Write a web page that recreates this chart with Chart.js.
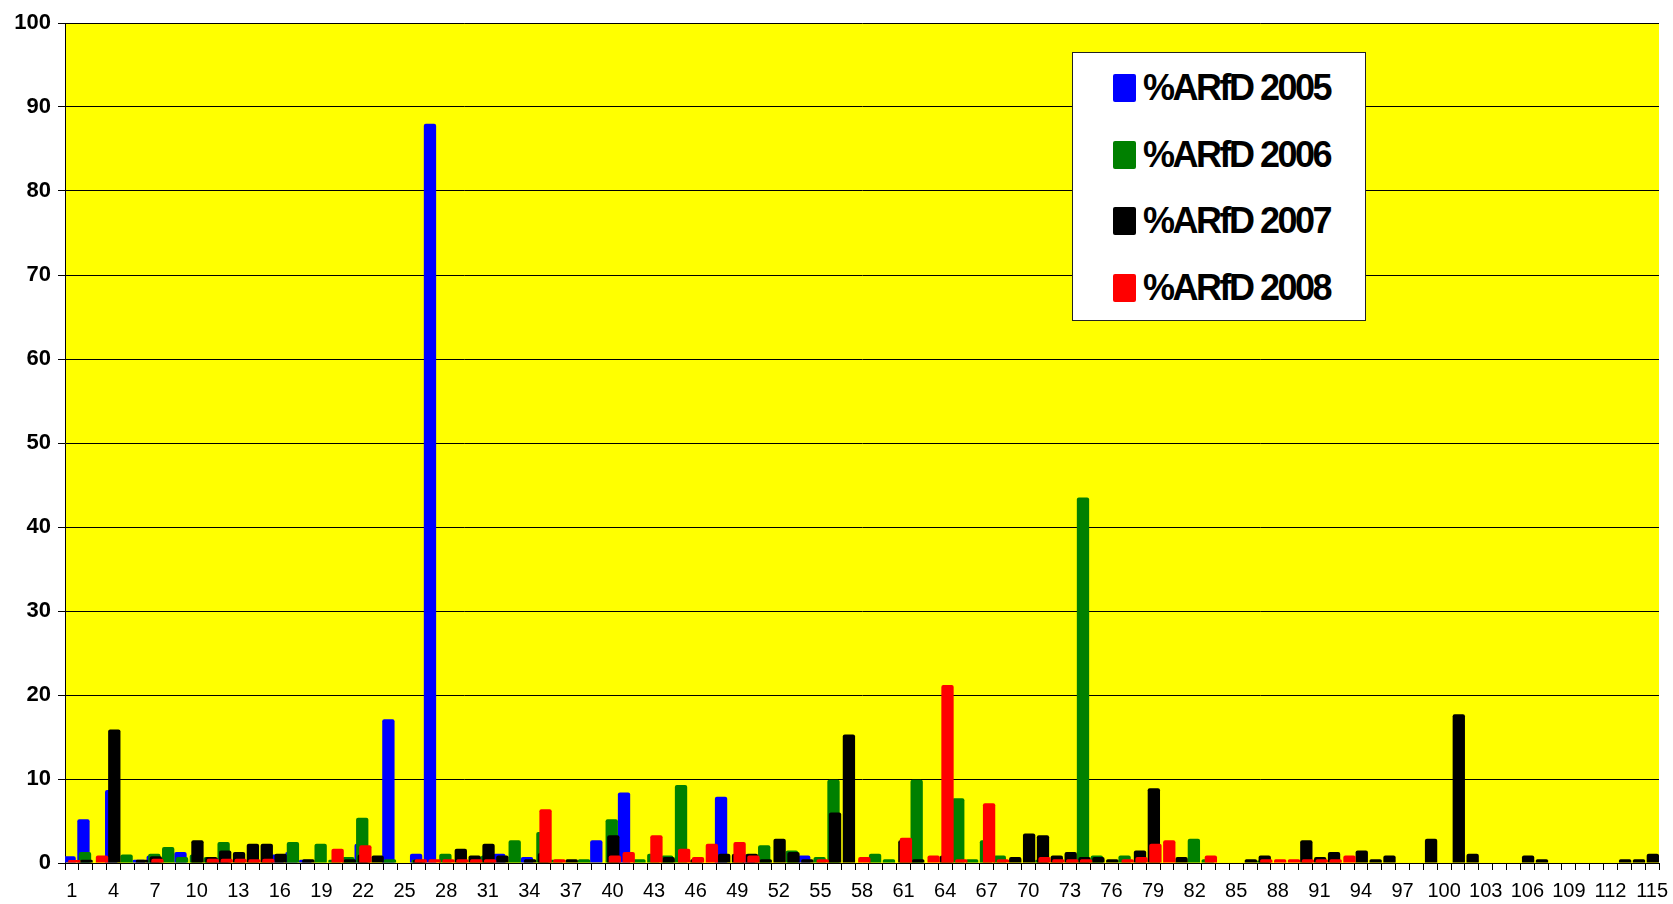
<!DOCTYPE html>
<html lang="en">
<head>
  <meta charset="UTF-8">
  <title>%ARfD 2005 - 2008</title>
  <script src="https://cdn.jsdelivr.net/npm/chart.js"></script>
  <style>
    body {
      margin: 0;
      background: white;
    }
    .wrap {
      position: relative;
      width: 1673px;
      height: 904px;
    }
    #legend {
      position: absolute;
      left: 1072px;
      top: 52px;
      width: 294px;
      height: 269px;
      background: white;
      border: 1px solid #222;
      box-sizing: border-box;
      font-family: "Liberation Sans", Arial, sans-serif;
      font-weight: bold;
      font-size: 36px;
      letter-spacing: -2.5px;
      color: #000;
    }
    .item {
      position: absolute;
      left: 40px;
      height: 40px;
      display: flex;
      align-items: center;
    }
    .swatch {
      width: 23px;
      height: 28px;
      border-radius: 2px;
      margin-right: 7px;
    }
  </style>
</head>
<body>

<div class="wrap">
  <canvas id="arfdChart"></canvas>
  <div id="legend"></div>
</div>

<script>
const categories = [
  1, 2, 3, 4, 5, 6, 7, 8, 9, 10, 11, 12, 13, 14, 15, 16, 17, 18, 19, 20,
  21, 22, 23, 24, 25, 26, 27, 28, 29, 30, 31, 32, 33, 34, 35, 36, 37, 38, 39, 40,
  41, 42, 43, 44, 45, 46, 47, 48, 49, 50, 51, 52, 53, 54, 55, 56, 57, 58, 59, 60,
  61, 62, 63, 64, 65, 66, 67, 68, 69, 70, 71, 72, 73, 74, 75, 76, 77, 78, 79, 80,
  81, 82, 83, 84, 85, 86, 87, 88, 89, 90, 91, 92, 93, 94, 95, 96, 97, 98, 99, 100,
  101, 102, 103, 104, 105, 106, 107, 108, 109, 110, 111, 112, 113, 114, 115
];

const seriesNames = ["%ARfD 2005", "%ARfD 2006", "%ARfD 2007", "%ARfD 2008"];
const seriesColors = ["#0000ff", "#008000", "#000000", "#ff0000"];

// values per substance number
const arfd2005 = [
  0.8, 5.2, 0, 8.7, 0, 0.4, 0.9, 0, 1.3, 0, 0, 0.6, 0, 0, 0, 1.0, 1.3, 0.4, 0, 0,
  0, 2.3, 0, 17.1, 0, 1.1, 88.0, 0, 0, 0, 0, 1.1, 0, 0.7, 0, 0, 0, 0, 2.7, 0,
  8.4, 0, 0, 0, 0, 0, 0, 7.9, 0, 1.0, 0, 0, 0, 0.9, 0, 0, 0, 0, 0, 0,
  0, 0, 0, 0, 0, 0, 0, 0, 0, 0, 0, 0, 0, 0, 0, 0, 0, 0, 0, 0,
  0, 0, 0, 0, 0, 0, 0, 0, 0, 0, 0, 0, 0, 0, 0, 0, 0, 0, 0, 0,
  0, 0, 0, 0, 0, 0, 0, 0, 0, 0, 0, 0, 0, 0, 0
];
const arfd2006 = [
  0, 1.3, 0, 0, 1.0, 0, 1.1, 1.9, 0.7, 1.0, 0.7, 2.5, 0, 0, 0, 0, 2.5, 0, 2.3, 0.4,
  0.7, 5.4, 0, 0.45, 0, 0.4, 0, 1.1, 0, 0, 0.9, 0, 2.7, 0, 3.7, 0.4, 0, 0.45, 0, 5.2,
  0, 0.45, 1.1, 0.9, 9.3, 0, 0, 0, 0, 0, 2.1, 0, 1.5, 0, 0.7, 9.9, 0, 0, 1.1, 0.45,
  0, 9.9, 0, 0, 7.7, 0.45, 2.7, 0.9, 0, 0, 0.4, 0, 0, 43.5, 0.9, 0, 0.9, 0, 0, 0,
  0, 2.9, 0.45, 0, 0, 0, 0.3, 0, 0, 0, 0, 0, 0, 0, 0, 0, 0, 0, 0, 0,
  0, 0, 0, 0, 0, 0, 0, 0, 0, 0, 0, 0, 0, 0, 0
];
const arfd2007 = [
  0, 0.4, 0, 15.9, 0, 0.4, 0.8, 0, 0, 2.7, 0.7, 1.5, 1.3, 2.3, 2.3, 1.1, 0, 0.45, 0, 0,
  0.45, 1.0, 0.9, 0, 0, 0.4, 0, 0, 1.7, 0.9, 2.3, 0.9, 0, 0.45, 1.2, 0, 0.45, 0, 0, 3.3,
  0, 0, 0, 0.7, 0, 0.45, 0, 1.1, 1.1, 1.1, 0.45, 2.9, 1.3, 0.45, 0, 6.0, 15.3, 0, 0, 0,
  2.7, 0.45, 0, 0.9, 0, 0, 0, 0, 0.7, 3.5, 3.3, 0.9, 1.3, 0.7, 0.7, 0.45, 0, 1.5, 8.9, 0,
  0.7, 0, 0, 0, 0, 0.45, 0.9, 0, 0, 2.7, 0.7, 1.3, 0, 1.5, 0.45, 0.9, 0, 0, 2.9, 0,
  17.7, 1.1, 0, 0, 0, 0.9, 0.45, 0, 0, 0, 0, 0, 0.45, 0.45, 1.1
];
const arfd2008 = [
  0.35, 0, 0.9, 0, 0, 0, 0.5, 0, 0, 0, 0.5, 0.5, 0.5, 0.45, 0.5, 0, 0, 0, 0, 1.7,
  0, 2.1, 0, 0, 0, 0.45, 0.45, 0.45, 0.45, 0.45, 0.45, 0, 0, 0, 6.4, 0.45, 0, 0, 0, 0.9,
  1.3, 0, 3.3, 0, 1.7, 0.7, 2.3, 0, 2.5, 0.9, 0, 0, 0, 0, 0.45, 0, 0, 0.7, 0, 0,
  3.0, 0, 0.9, 21.2, 0.45, 0, 7.1, 0.45, 0, 0, 0.7, 0.45, 0.45, 0.45, 0, 0, 0.45, 0.7, 2.3, 2.7,
  0, 0, 0.9, 0, 0, 0, 0.45, 0.45, 0.45, 0.45, 0.45, 0.45, 0.9, 0, 0, 0, 0, 0, 0, 0,
  0, 0, 0, 0, 0, 0, 0, 0, 0, 0, 0, 0, 0, 0, 0
];

const yTicks = [0, 10, 20, 30, 40, 50, 60, 70, 80, 90, 100];

const seriesValues = [arfd2005, arfd2006, arfd2007, arfd2008];

// yellow plot area like the original sheet
const plotBackground = {
  id: "plotBackground",
  beforeDraw(chart) {
    const {ctx, chartArea: a} = chart;
    ctx.save();
    ctx.fillStyle = "#ffff00";
    ctx.fillRect(a.left, a.top, a.right - a.left, a.bottom - a.top);
    ctx.restore();
  }
};

// Excel paints the later series over the earlier ones, chart.js does the reverse
const laterOnTop = {
  id: "laterOnTop",
  beforeDatasetsDraw(chart) {
    const {ctx, chartArea: a} = chart;
    ctx.save();
    ctx.beginPath();
    ctx.rect(a.left, a.top, a.right - a.left, a.bottom - a.top);
    ctx.clip();
    chart.data.datasets.forEach((ds, i) => chart.getDatasetMeta(i).controller.draw());
    ctx.restore();
    return false;
  }
};

Chart.defaults.font.family = "'Liberation Sans', Arial, sans-serif";
Chart.defaults.color = "#000";

new Chart(document.getElementById("arfdChart"), {
  type: "bar",
  data: {
    labels: categories,
    datasets: seriesNames.map((name, i) => ({
      label: name,
      data: seriesValues[i],
      backgroundColor: seriesColors[i],
      borderWidth: 0,
      borderRadius: 2,
      categoryPercentage: 0.45,
      barPercentage: 7.9
    }))
  },
  options: {
    responsive: true,
    maintainAspectRatio: false,
    animation: false,
    layout: {
      padding: { top: 23, right: 14, left: 0, bottom: 0 }
    },
    plugins: {
      legend: { display: false },
      tooltip: { enabled: false }
    },
    scales: {
      x: {
        offset: true,
        grid: {
          offset: true,
          drawOnChartArea: false,
          color: "#000",
          tickLength: 7
        },
        border: { color: "#000" },
        ticks: {
          autoSkip: false,
          maxRotation: 0,
          padding: 9,
          font: { size: 20 },
          callback: (v, i) => (i % 3 === 0 ? String(categories[i]) : "")
        },
        afterFit: s => {
          s.height = 41;
          // keep the plot edge fixed, the last label may hang over
          s.paddingLeft = 0;
          s.paddingRight = 0;
        }
      },
      y: {
        min: 0,
        max: 100,
        afterBuildTicks: s => { s.ticks = yTicks.map(v => ({ value: v })); },
        grid: { color: "#000", tickLength: 7 },
        border: { color: "#000" },
        ticks: {
          padding: 7,
          font: { size: 22, weight: "bold" }
        },
        afterFit: s => {
          s.width = 65;
          s.paddingTop = 0;
          s.paddingBottom = 0;
        }
      }
    }
  },
  plugins: [plotBackground, laterOnTop]
});

// legend box drawn as html, entries come from the series arrays
const legend = document.getElementById("legend");
seriesNames.forEach((name, i) => {
  const item = document.createElement("div");
  item.className = "item";
  item.style.top = (15 + i * 66.7) + "px";
  item.innerHTML = `<span class="swatch" style="background:${seriesColors[i]}"></span><span>${name}</span>`;
  legend.appendChild(item);
});
</script>

</body>
</html>
